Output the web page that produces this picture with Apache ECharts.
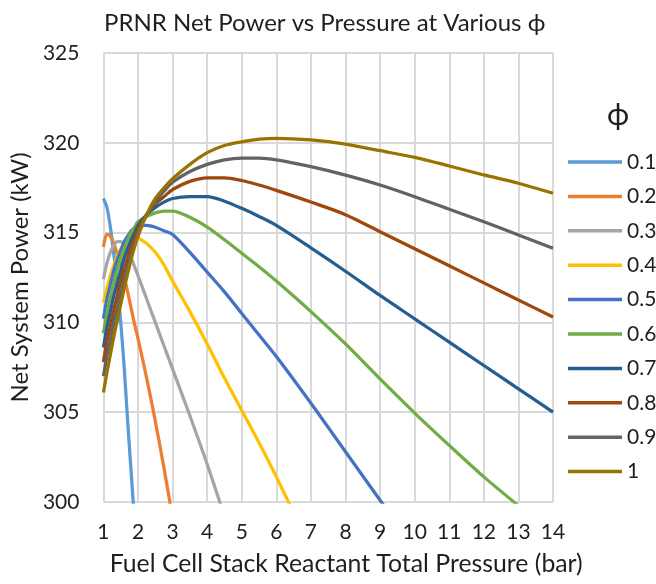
<!DOCTYPE html>
<html>
<head>
<meta charset="utf-8">
<script src="https://cdn.jsdelivr.net/npm/echarts@6/dist/echarts.min.js"></script>
<style>
  html, body { margin: 0; padding: 0; background: #ffffff; }
  #chart { width: 656px; height: 584px; }
</style>
</head>
<body>
<div id="chart"></div>
<script>
// Fuel cell stack reactant total pressure (bar), shared sample grid
const pressure = [1, 1.1, 1.2, 1.3, 1.4, 1.5, 1.6, 1.7, 1.8, 1.9, 2, 2.25, 2.5, 2.75, 3, 3.5, 4, 4.5, 5, 5.5, 6, 7, 8, 9, 10, 11, 12, 13, 14];

// Net system power (kW) for each equivalence ratio; null = beyond the plotted range
const phi01 = [316.9, 316.4, 315.3, 313.8, 312.0, 310.0, 307.5, 304.5, 301.7, 298.9, null, null, null, null, null, null, null, null, null, null, null, null, null, null, null, null, null, null, null];
const phi02 = [314.2, 314.9, 314.8, 314.4, 313.8, 313.2, 312.5, 311.7, 310.8, 309.9, 309.1, 306.9, 304.5, 301.9, 299.1, null, null, null, null, null, null, null, null, null, null, null, null, null, null];
const phi03 = [312.4, 313.3, 313.9, 314.3, 314.5, 314.5, 314.3, 314.0, 313.6, 313.1, 312.6, 311.3, 310.0, 308.7, 307.4, 304.8, 302.1, 299.2, null, null, null, null, null, null, null, null, null, null, null];
const phi04 = [311.1, 311.9, 312.6, 313.2, 313.7, 314.1, 314.4, 314.6, 314.7, 314.75, 314.7, 314.4, 313.9, 313.2, 312.3, 310.6, 308.8, 306.9, 305.1, 303.3, 301.4, 297.4, null, null, null, null, null, null, null];
const phi05 = [310.2, 311.3, 312.1, 312.9, 313.5, 314.0, 314.5, 314.8, 315.1, 315.25, 315.35, 315.4, 315.3, 315.1, 314.9, 313.9, 312.8, 311.7, 310.5, 309.3, 308.1, 305.5, 302.8, 300.1, 297.4, null, null, null, null];
const phi06 = [309.4, 310.5, 311.4, 312.2, 312.9, 313.6, 314.1, 314.6, 315.0, 315.3, 315.6, 315.9, 316.1, 316.2, 316.2, 315.85, 315.3, 314.6, 313.85, 313.1, 312.3, 310.6, 308.8, 306.85, 304.95, 303.15, 301.4, 299.8, null];
const phi07 = [308.6, 309.7, 310.6, 311.5, 312.2, 312.9, 313.6, 314.1, 314.6, 315.0, 315.4, 316.0, 316.4, 316.7, 316.9, 317.0, 317.0, 316.75, 316.35, 315.9, 315.4, 314.15, 312.85, 311.5, 310.2, 308.9, 307.6, 306.3, 305.0];
const phi08 = [307.8, 308.9, 309.8, 310.7, 311.5, 312.3, 313.0, 313.6, 314.2, 314.7, 315.2, 316.0, 316.6, 317.0, 317.4, 317.85, 318.05, 318.05, 317.9, 317.65, 317.35, 316.7, 316.0, 315.05, 314.1, 313.15, 312.2, 311.25, 310.3];
const phi09 = [307.0, 308.1, 309.0, 310.0, 310.8, 311.6, 312.4, 313.1, 313.8, 314.4, 315.0, 316.0, 316.7, 317.3, 317.8, 318.4, 318.8, 319.05, 319.15, 319.15, 319.05, 318.67, 318.2, 317.65, 317.0, 316.3, 315.6, 314.87, 314.13];
const phi10 = [306.1, 307.2, 308.2, 309.2, 310.1, 311.0, 311.9, 312.7, 313.5, 314.2, 314.8, 316.0, 316.9, 317.5, 318.0, 318.8, 319.45, 319.85, 320.05, 320.2, 320.25, 320.16, 319.93, 319.56, 319.19, 318.71, 318.21, 317.75, 317.19];

const phiNames = ['0.1', '0.2', '0.3', '0.4', '0.5', '0.6', '0.7', '0.8', '0.9', '1'];
const phiSeries = [phi01, phi02, phi03, phi04, phi05, phi06, phi07, phi08, phi09, phi10];

// Office palette used for the ten curves
const lineColors = ['#5B9BD5', '#ED7D31', '#A5A5A5', '#FFC000', '#4472C4', '#70AD47', '#255E91', '#9E480E', '#636363', '#997300'];

const FONT = 'Lato, "Open Sans", sans-serif';
const TEXT = '#1f1f1f';

const series = phiSeries.map((vals, k) => ({
  name: phiNames[k],
  type: 'line',
  data: pressure.map((p, i) => [p, vals[i]]).filter(d => d[1] !== null),
  showSymbol: false,
  smooth: 0.3,
  clip: true,
  lineStyle: { width: 3.25, color: lineColors[k] },
  itemStyle: { color: lineColors[k] },
  emphasis: { disabled: true }
}));

const chart = echarts.init(document.getElementById('chart'), null, { renderer: 'canvas' });
chart.setOption({
  animation: false,
  backgroundColor: '#ffffff',
  title: {
    text: 'PRNR Net Power vs Pressure at Various ϕ',
    left: 99,
    top: 6,
    textStyle: { fontFamily: FONT, fontSize: 24, fontWeight: 'normal', color: TEXT }
  },
  graphic: [{
    type: 'text',
    left: 607,
    top: 100,
    style: { text: 'ϕ', font: '30px ' + FONT, fill: TEXT }
  }],
  legend: {
    orient: 'vertical',
    left: 563,
    top: 146,
    icon: 'rect',
    itemWidth: 54,
    itemHeight: 3.5,
    itemGap: 12.4,
    data: phiNames,
    textStyle: { fontFamily: FONT, fontSize: 21, color: TEXT, lineHeight: 22 }
  },
  grid: { left: 101, right: 103, top: 53, bottom: 82, containLabel: false },
  xAxis: {
    type: 'value',
    min: 1,
    max: 14,
    interval: 1,
    name: 'Fuel Cell Stack Reactant Total Pressure (bar)',
    nameLocation: 'middle',
    nameGap: 50,
    nameTextStyle: { fontFamily: FONT, fontSize: 24.8, color: TEXT, padding: [0, 0, 0, 36] },
    axisLine: { show: false },
    axisTick: { show: false },
    axisLabel: { margin: 20, fontFamily: FONT, fontSize: 21, color: TEXT },
    splitLine: { show: true, lineStyle: { color: '#d9d9d9', width: 2 } }
  },
  yAxis: {
    type: 'value',
    min: 300,
    max: 325,
    interval: 5,
    name: 'Net System Power (kW)',
    nameLocation: 'middle',
    nameGap: 70,
    nameTextStyle: { fontFamily: FONT, fontSize: 24, color: TEXT },
    axisLine: { show: false },
    axisTick: { show: false },
    axisLabel: { margin: 24, fontFamily: FONT, fontSize: 21, color: TEXT },
    splitLine: { show: true, lineStyle: { color: '#d9d9d9', width: 2 } }
  },
  series: series
});
</script>
</body>
</html>
